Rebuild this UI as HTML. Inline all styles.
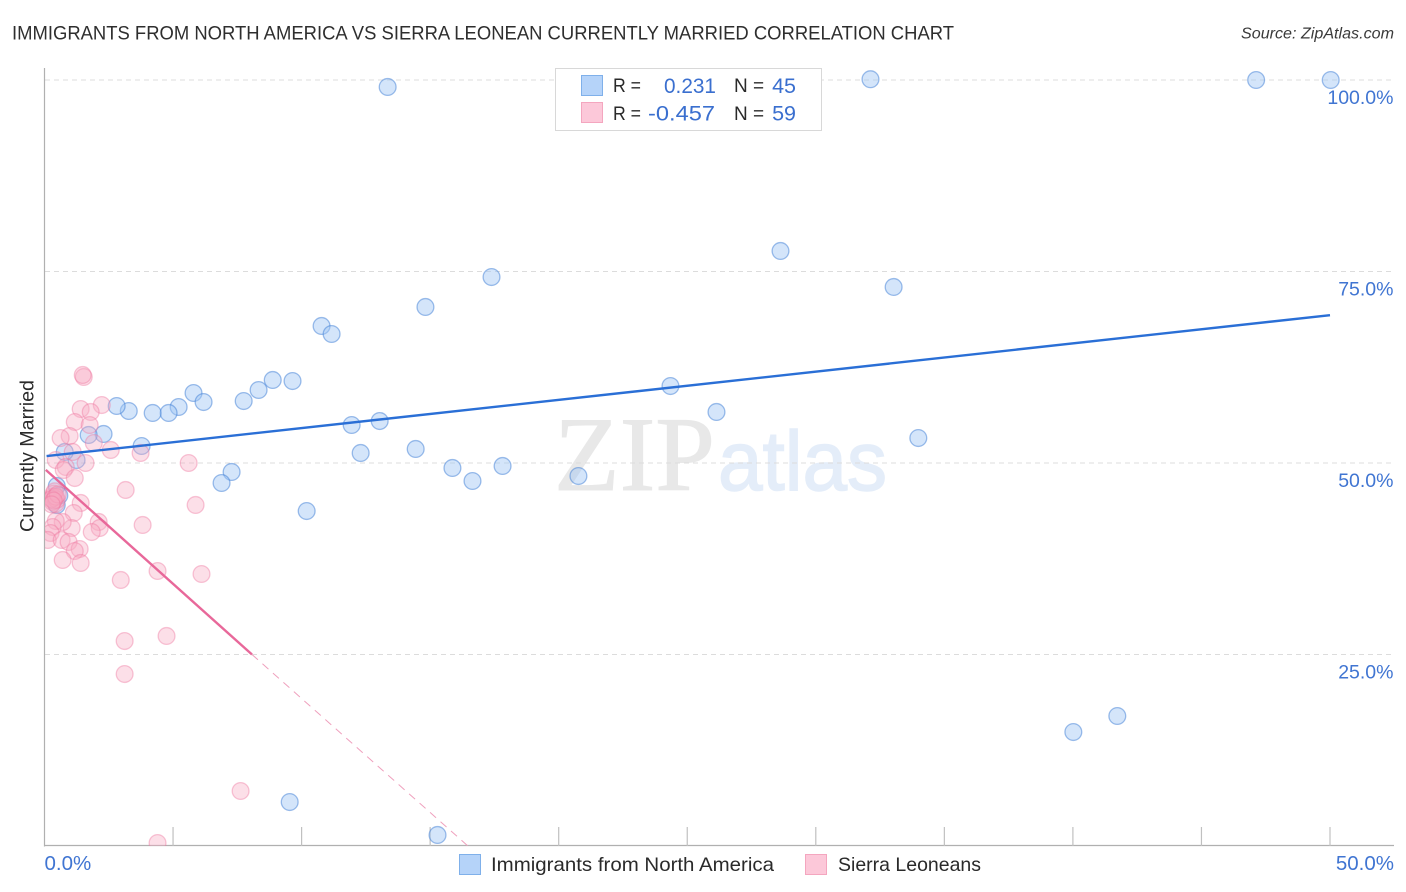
<!DOCTYPE html>
<html lang="en">
<head>
<meta charset="utf-8">
<title>Immigrants from North America vs Sierra Leonean Currently Married Correlation Chart</title>
<style>
html,body{margin:0;padding:0;background:#fff;width:1406px;height:892px;overflow:hidden}
svg{display:block;font-family:"Liberation Sans",sans-serif}
</style>
</head>
<body>
<svg id="chart" xmlns="http://www.w3.org/2000/svg" width="1406" height="892" viewBox="0 0 1406 892">
  <defs>
    <clipPath id="plot-clip"><rect x="45" y="60" width="1349" height="786"/></clipPath>
  </defs>
  <rect x="0" y="0" width="1406" height="892" fill="#fff"/>
  <text x="12" y="39.5" font-size="19.5" fill="#2e2e2e" textLength="942" lengthAdjust="spacingAndGlyphs">IMMIGRANTS FROM NORTH AMERICA VS SIERRA LEONEAN CURRENTLY MARRIED CORRELATION CHART</text>
  <text x="1241" y="38.5" font-size="15.5" font-style="italic" fill="#3a3a3a" textLength="153" lengthAdjust="spacingAndGlyphs">Source: ZipAtlas.com</text>

  <g id="watermark">
    <text x="554" y="490" font-family="'Liberation Serif',serif" font-size="106" fill="#e8e8e8" stroke="#e8e8e8" stroke-width="1" textLength="161" lengthAdjust="spacingAndGlyphs">ZIP</text>
    <text x="718" y="490" font-size="84" fill="#e4edf9" stroke="#e4edf9" stroke-width="1.5" textLength="169" lengthAdjust="spacingAndGlyphs">atlas</text>
  </g>

  <g id="grid"></g>
  <g id="axes"></g>
  <g id="points" clip-path="url(#plot-clip)"></g>
  <g id="trends" clip-path="url(#plot-clip)"></g>
  <g id="tick-labels"></g>

  <text transform="translate(33.5,456) rotate(-90)" font-size="19.5" fill="#2a2a2a" text-anchor="middle" textLength="152" lengthAdjust="spacingAndGlyphs">Currently Married</text>

  <g>
    <rect x="555.5" y="68.5" width="266" height="62" fill="#fff" stroke="#d8d8d8" stroke-width="1"/>
    <rect x="581.5" y="75.5" width="21" height="20" fill="#b5d3f9" stroke="#7fb0ea"/>
    <rect x="581.5" y="102.5" width="21" height="20" fill="#fcc8d9" stroke="#f4a6bf"/>
    <text x="613" y="92" font-size="19" fill="#2a2a2a" textLength="28" lengthAdjust="spacingAndGlyphs">R =</text>
    <text x="664" y="93" font-size="21.5" fill="#3a6fcf" textLength="52" lengthAdjust="spacingAndGlyphs">0.231</text>
    <text x="734" y="92" font-size="19" fill="#2a2a2a">N =</text>
    <text x="796" y="93" font-size="21.5" fill="#3a6fcf" text-anchor="end">45</text>
    <text x="613" y="120" font-size="19" fill="#2a2a2a" textLength="28" lengthAdjust="spacingAndGlyphs">R =</text>
    <text x="648" y="120.5" font-size="21.5" fill="#3a6fcf" textLength="67" lengthAdjust="spacingAndGlyphs">-0.457</text>
    <text x="734" y="120" font-size="19" fill="#2a2a2a">N =</text>
    <text x="796" y="120.5" font-size="21.5" fill="#3a6fcf" text-anchor="end">59</text>
  </g>

  <g>
    <rect x="459.5" y="854.5" width="21" height="20" fill="#b5d3f9" stroke="#7fb0ea"/>
    <text x="491" y="871" font-size="19.5" fill="#2a2a2a" textLength="283" lengthAdjust="spacingAndGlyphs">Immigrants from North America</text>
    <rect x="805.5" y="854.5" width="21" height="20" fill="#fcc8d9" stroke="#f4a6bf"/>
    <text x="838" y="871" font-size="19.5" fill="#2a2a2a" textLength="143" lengthAdjust="spacingAndGlyphs">Sierra Leoneans</text>
  </g>
</svg>

<script>
const yTicks = [25, 50, 75, 100];
const yTickLabels = ["25.0%", "50.0%", "75.0%", "100.0%"];
const xMinorTicks = [5, 10, 15, 20, 25, 30, 35, 40, 45, 50];
const xEdgeTicks = [0, 50];
const xEdgeLabels = ["0.0%", "50.0%"];

const immigrantsX = [13.32, 32.10, 47.10, 50.00, 28.60, 17.36, 33.00, 14.79, 10.75, 11.14, 9.62, 8.85, 8.30, 7.72, 5.77, 6.16, 5.19, 4.80, 4.18, 3.25, 2.78, 24.32, 26.11, 11.92, 13.01, 33.96, 3.75, 2.27, 1.69, 12.27, 14.41, 15.84, 17.79, 16.62, 20.74, 7.25, 6.86, 10.17, 1.22, 0.76, 0.45, 39.99, 41.70, 9.51, 15.26, 0.45, 0.55];
const immigrantsY = [99.09, 100.1, 100, 100, 77.68, 74.28, 72.98, 70.37, 67.89, 66.84, 60.70, 60.84, 59.53, 58.09, 59.14, 57.96, 57.31, 56.53, 56.53, 56.79, 57.44, 60.05, 56.66, 54.96, 55.48, 53.26, 52.22, 53.79, 53.66, 51.31, 51.83, 49.35, 49.61, 47.65, 48.30, 48.83, 47.39, 43.73, 50.39, 51.44, 47.00, 14.88, 16.97, 5.74, 1.44, 44.50, 45.75];

const sierraX = [1.50, 1.46, 2.20, 1.38, 1.77, 1.15, 1.73, 0.95, 0.60, 1.89, 2.55, 3.71, 5.58, 1.07, 0.41, 1.57, 0.80, 0.72, 1.15, 3.13, 5.85, 1.38, 1.11, 3.79, 2.08, 2.12, 1.81, 1.03, 0.68, 0.41, 0.29, 0.21, 0.10, 0.64, 0.91, 1.34, 1.15, 0.68, 1.38, 2.94, 4.37, 6.08, 0.30, 0.33, 0.37, 0.29, 0.41, 0.45, 0.37, 0.25, 0.41, 0.49, 0.33, 0.25, 4.72, 3.09, 3.09, 7.60, 4.37];
const sierraY = [61.23, 61.49, 57.57, 57.05, 56.66, 55.35, 54.96, 53.52, 53.26, 52.61, 51.70, 51.31, 50.00, 51.44, 50.39, 50.00, 49.48, 49.09, 48.04, 46.48, 44.52, 44.78, 43.47, 41.91, 42.30, 41.51, 40.99, 41.51, 42.30, 42.43, 41.64, 40.86, 39.95, 39.95, 39.69, 38.77, 38.51, 37.34, 36.95, 34.73, 35.90, 35.51, 45.60, 46.00, 45.40, 44.90, 44.70, 45.20, 46.30, 45.30, 45.60, 45.90, 45.10, 44.60, 27.42, 26.76, 22.45, 7.18, 0.39];

const immigrantsTrendX = [0.08, 50];
const immigrantsTrendY = [50.9, 69.3];
const sierraTrendX = [0.05, 8.07];
const sierraTrendY = [49.1, 25];
const sierraDashX = [8.07, 16.47];
const sierraDashY = [25, 0];

const NS = "http://www.w3.org/2000/svg";
function sx(v) { return 44.5 + v * 25.71; }
function sy(v) { return 846 - v * 7.66; }
function make(tag, attrs, parent) {
  const el = document.createElementNS(NS, tag);
  for (const k in attrs) el.setAttribute(k, attrs[k]);
  parent.appendChild(el);
  return el;
}

const gridG = document.getElementById("grid");
yTicks.forEach(function (t) {
  const line = make("line", { x1: 45, x2: 1394, y1: sy(t), y2: sy(t), stroke: "#dcdcdc", "stroke-width": 1, "stroke-dasharray": "5 4" }, gridG);
  
  
});

const axesG = document.getElementById("axes");
const yAxis = make("line", { x1: 44.5, x2: 44.5, y1: 68, y2: 846.5, stroke: "#b0b0b0", "stroke-width": 1.2 }, axesG);


const xAxis = make("line", { x1: 44, x2: 1394, y1: 845.5, y2: 845.5, stroke: "#b0b0b0", "stroke-width": 1.2 }, axesG);


xMinorTicks.forEach(function (t) {
  const tick = make("line", { x1: sx(t), x2: sx(t), y1: 827, y2: 846, stroke: "#c0c0c0", "stroke-width": 1.2 }, axesG);
  
  
});

const labelsG = document.getElementById("tick-labels");
yTicks.forEach(function (t, i) {
  const lab = make("text", { x: 1393.5, y: sy(t) + 24, "font-size": 19.5, fill: "#4075d2", "text-anchor": "end" }, labelsG);
  lab.textContent = yTickLabels[i];
  
  
});
xEdgeTicks.forEach(function (t, i) {
  const lab = make("text", { x: i === 0 ? sx(t) : 1394, y: 870, "font-size": 20.5, fill: "#4075d2", "text-anchor": i === 0 ? "start" : "end" }, labelsG);
  lab.textContent = xEdgeLabels[i];
  
  
});

const pointsG = document.getElementById("points");
immigrantsX.forEach(function (x, i) {
  const c = make("circle", { cx: sx(x) + 0.7, cy: sy(immigrantsY[i]), r: 8.4, fill: "rgba(160,198,245,0.45)", stroke: "rgba(62,125,214,0.5)", "stroke-width": 1.3 }, pointsG);
  
  
});
sierraX.forEach(function (x, i) {
  const c = make("circle", { cx: sx(x) + 0.7, cy: sy(sierraY[i]), r: 8.4, fill: "rgba(248,170,195,0.38)", stroke: "rgba(238,120,160,0.42)", "stroke-width": 1.3 }, pointsG);
  
  
});

const trendsG = document.getElementById("trends");
const blueTrend = make("line", { x1: sx(immigrantsTrendX[0]), y1: sy(immigrantsTrendY[0]), x2: sx(immigrantsTrendX[1]), y2: sy(immigrantsTrendY[1]), stroke: "#2a6fd6", "stroke-width": 2.4 }, trendsG);


const pinkTrend = make("line", { x1: sx(sierraTrendX[0]), y1: sy(sierraTrendY[0]), x2: sx(sierraTrendX[1]), y2: sy(sierraTrendY[1]), stroke: "#e8689a", "stroke-width": 2.4 }, trendsG);


const pinkDash = make("line", { x1: sx(sierraDashX[0]), y1: sy(sierraDashY[0]), x2: sx(sierraDashX[1]), y2: sy(sierraDashY[1]), stroke: "#efa0bd", "stroke-width": 1, "stroke-dasharray": "8 6" }, trendsG);


</script>
</body>
</html>
